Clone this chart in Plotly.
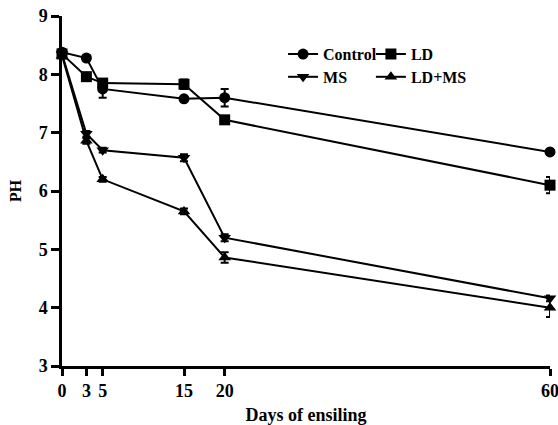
import plotly.graph_objects as go

days = [0, 3, 5, 15, 20, 60]
control = [8.38, 8.28, 7.75, 7.58, 7.6, 6.67]
control_err = [0.05, 0.04, 0.15, 0.04, 0.15, 0.03]
ld = [8.35, 7.96, 7.85, 7.83, 7.22, 6.1]
ld_err = [0.05, 0.04, 0.06, 0.08, 0.06, 0.14]
ms = [8.35, 6.98, 6.7, 6.57, 5.2, 4.16]
ms_err = [0.05, 0.05, 0.04, 0.06, 0.06, 0.05]
ldms = [8.32, 6.86, 6.2, 5.65, 4.86, 4.0]
ldms_err = [0.05, 0.05, 0.04, 0.05, 0.09, 0.16]
series_names = ["Control", "LD", "MS", "LD+MS"]
symbols = ["circle", "square", "triangle-down", "triangle-up"]
tick_vals = [0, 3, 5, 15, 20, 60]

fig = go.Figure()
data = [control, ld, ms, ldms]
errs = [control_err, ld_err, ms_err, ldms_err]
legends = ["legend", "legend2", "legend3", "legend4"]
for name, y, e, sym, lg in zip(series_names, data, errs, symbols, legends):
    fig.add_trace(go.Scatter(
        x=days, y=y, name=name, mode="lines+markers",
        line=dict(color="black", width=2),
        marker=dict(symbol=sym, size=11, color="black"),
        error_y=dict(type="data", array=e, color="black", thickness=2, width=4),
        cliponaxis=False, legend=lg,
    ))

FAM = "Liberation Serif"
f18 = dict(family=FAM, size=18, color="black", weight="bold")
legfont = dict(family=FAM, size=16, color="black", weight="bold")


def leg(x, y):
    return dict(orientation="h", x=x, y=y, xanchor="left", yanchor="middle",
                bgcolor="rgba(0,0,0,0)", itemwidth=30, font=legfont)


fig.update_layout(
    width=558, height=425,
    margin=dict(l=62, r=8, t=16, b=59, autoexpand=False),
    plot_bgcolor="white", paper_bgcolor="white",
    font=dict(family=FAM, size=18, color="black"),
    showlegend=True,
    legend=leg(0.453, 0.891),
    legend2=leg(0.633, 0.891),
    legend3=leg(0.453, 0.826),
    legend4=leg(0.633, 0.826),
    xaxis=dict(range=[0, 60], tickvals=tick_vals, ticktext=[str(v) for v in tick_vals],
               showgrid=False, zeroline=False, showline=True, linecolor="black", linewidth=2.5,
               ticks="outside", ticklen=7, tickwidth=2.5, tickcolor="black",
               tickfont=f18, ticklabeloverflow="allow", automargin=False,
               title=dict(text="Days of ensiling", standoff=12, font=f18)),
    yaxis=dict(range=[3, 9], dtick=1, showgrid=False, zeroline=False, showline=True,
               linecolor="black", linewidth=2.5, automargin=False,
               ticks="outside", ticklen=8, tickwidth=2.5, tickcolor="black",
               tickfont=f18,
               title=dict(text="PH", standoff=14, font=dict(family=FAM, size=16, color="black", weight="bold"))),
)
fig.write_html("out.html", config={"displayModeBar": False},
               post_script="document.body.style.margin='0';document.body.style.overflow='hidden';")
